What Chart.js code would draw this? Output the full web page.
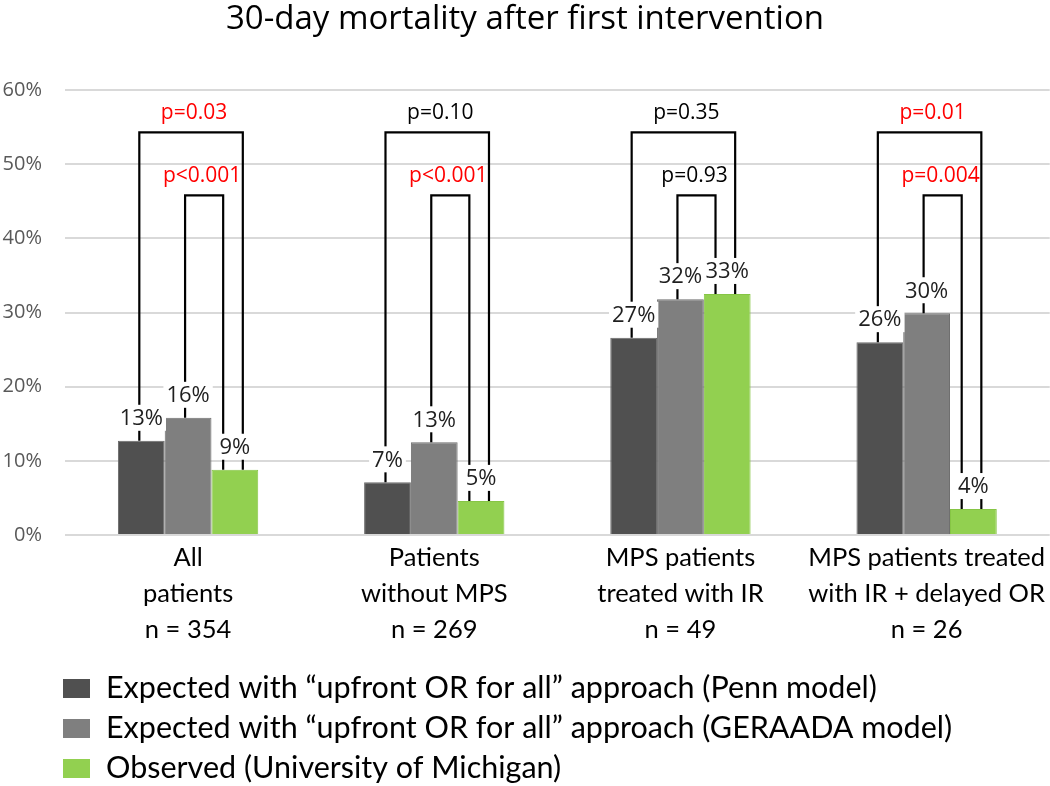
<!DOCTYPE html>
<html>
<head>
<meta charset="utf-8">
<script src="https://cdn.jsdelivr.net/npm/chart.js@4"></script>
<style>
  html, body { margin: 0; padding: 0; background: #fff; }
  #wrap { width: 1050px; height: 786px; position: relative; }
</style>
</head>
<body>
<div id="wrap"><canvas id="mortChart"></canvas></div>
<script>
// Data (percent)
const categories = [
    ['All', 'patients', 'n = 354'],
    ['Patients', 'without MPS', 'n = 269'],
    ['MPS patients', 'treated with IR', 'n = 49'],
    ['MPS patients treated', 'with IR + delayed OR', 'n = 26']
];
const seriesNames = [
    'Expected with \u201Cupfront OR for all\u201D approach (Penn model)',
    'Expected with \u201Cupfront OR for all\u201D approach (GERAADA model)',
    'Observed (University of Michigan)'
];
const pennValues = [12.7, 7.1, 26.6, 26.0];
const geraadaValues = [15.8, 12.5, 31.8, 29.9];
const observedValues = [8.8, 4.6, 32.5, 3.5];

// p-values: outer bracket = Penn vs observed, inner = GERAADA vs observed
const outerP = ['p=0.03', 'p=0.10', 'p=0.35', 'p=0.01'];
const innerP = ['p<0.001', 'p<0.001', 'p=0.93', 'p=0.004'];

const yTicks = [0, 10, 20, 30, 40, 50, 60];

const colors = ['#505050', '#7f7f7f', '#92d050'];
const borders = ['#6a6a6a', '#6f6f6f', '#86c545'];

const valueFont = '22px "Open Sans"';
const pFont = '21px "Open Sans"';
const pColor = p => parseFloat(p.slice(2)) < 0.05 ? '#ff0000' : '#000000';

// Brackets, value labels and p labels drawn on top of the bars
const annotatePlugin = {
    id: 'annotate',
    afterDatasetsDraw(chart) {
        const { ctx } = chart;
        const y = chart.scales.y;
        const metas = [0, 1, 2].map(i => chart.getDatasetMeta(i));
        const outerTop = y.getPixelForValue(54.3);
        const innerTop = y.getPixelForValue(45.8);

        ctx.save();
        ctx.strokeStyle = '#000';
        ctx.lineWidth = 2.2;
        categories.forEach((c, k) => {
            const a = metas[0].data[k], b = metas[1].data[k], g = metas[2].data[k];
            const outerL = a.x - 2, outerR = g.x + g.width * 0.17;
            const innerL = b.x - 3, innerR = g.x - g.width * 0.25;

            ctx.beginPath();
            ctx.moveTo(outerL, a.y);
            ctx.lineTo(outerL, outerTop);
            ctx.lineTo(outerR, outerTop);
            ctx.lineTo(outerR, g.y);
            ctx.stroke();

            ctx.beginPath();
            ctx.moveTo(innerL, b.y);
            ctx.lineTo(innerL, innerTop);
            ctx.lineTo(innerR, innerTop);
            ctx.lineTo(innerR, g.y);
            ctx.stroke();

            ctx.font = pFont;
            ctx.textAlign = 'center';
            ctx.textBaseline = 'middle';
            ctx.fillStyle = pColor(outerP[k]);
            ctx.fillText(outerP[k], (outerL + outerR) / 2 + 3, outerTop - 19);
            ctx.fillStyle = pColor(innerP[k]);
            ctx.fillText(innerP[k], (innerL + innerR) / 2 - 2, innerTop - 19);
        });

        // value labels with white boxes over the bracket legs
        ctx.font = valueFont;
        ctx.textAlign = 'center';
        ctx.textBaseline = 'middle';
        chart.data.datasets.forEach((ds, i) => {
            metas[i].data.forEach((bar, k) => {
                const txt = Math.round(ds.data[k]) + '%';
                const w = ctx.measureText(txt).width + 6;
                const cy = bar.y - 23;
                ctx.fillStyle = '#fff';
                ctx.fillRect(bar.x - w / 2, cy - 13, w, 26);
                ctx.fillStyle = '#1f1f1f';
                ctx.fillText(txt, bar.x, cy + 1);
            });
        });
        ctx.restore();
    },
    afterDraw(chart) {
        // legend, one row per series
        const { ctx } = chart;
        ctx.save();
        ctx.font = '30.5px Lato';
        ctx.textBaseline = 'middle';
        ctx.textAlign = 'left';
        chart.data.datasets.forEach((ds, i) => {
            const cy = 688 + i * 40;
            ctx.fillStyle = ds.backgroundColor;
            ctx.fillRect(63, cy - 9, 27, 19);
            ctx.fillStyle = '#000';
            ctx.fillText(ds.label, 106, cy);
        });
        ctx.restore();
    }
};

const values = [pennValues, geraadaValues, observedValues];

new Chart(document.getElementById('mortChart'), {
    type: 'bar',
    plugins: [annotatePlugin],
    data: {
        labels: categories,
        datasets: values.map((v, i) => ({
            label: seriesNames[i],
            data: v,
            backgroundColor: colors[i],
            borderColor: borders[i],
            borderWidth: 1,
            categoryPercentage: 0.57,
            barPercentage: 1
        }))
    },
    options: {
        responsive: true,
        maintainAspectRatio: false,
        animation: false,
        layout: { padding: { left: 0, right: 0, top: 0, bottom: 138 } },
        plugins: {
            legend: { display: false },
            tooltip: { enabled: false },
            title: {
                display: true,
                text: '30-day mortality after first intervention',
                color: '#000',
                font: { family: 'Open Sans', size: 33, weight: 'normal' },
                padding: { top: 0, bottom: 50.4 }
            }
        },
        scales: {
            x: {
                grid: { display: false, drawTicks: false },
                border: { display: false },
                ticks: {
                    color: '#000',
                    font: { family: 'Lato', size: 25.5, lineHeight: 1.41 },
                    padding: 5,
                    maxRotation: 0,
                    autoSkip: false
                },
                afterFit: s => { s.height = 113; }
            },
            y: {
                min: 0,
                max: 60,
                afterBuildTicks: s => { s.ticks = yTicks.map(v => ({ value: v })); },
                grid: { color: '#d9d9d9', lineWidth: 2, drawTicks: false },
                border: { display: false },
                ticks: {
                    color: '#595959',
                    font: { family: 'Open Sans', size: 20 },
                    padding: 23,
                    callback: v => v + '%'
                },
                afterFit: s => { s.width = 65; }
            }
        }
    }
});
</script>
</body>
</html>
